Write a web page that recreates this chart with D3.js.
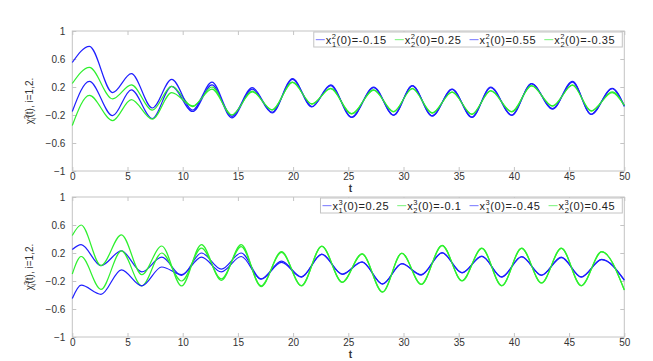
<!DOCTYPE html>
<html>
<head>
<meta charset="utf-8">
<script src="https://cdn.jsdelivr.net/npm/d3@7"></script>
<style>
  body { margin: 0; background: #fff; }
  text { font-family: "Liberation Sans", Arial, sans-serif; }
</style>
</head>
<body>
<div id="chart"></div>
<script>
// ---- data (t, value) ----
const xTicks = [0, 5, 10, 15, 20, 25, 30, 35, 40, 45, 50];
const yTicks = [1, 0.6, 0.2, -0.2, -0.6, -1];

// upper panel (superscript 2)
const topT = [0, 1.55, 3.65, 5.35, 7.25, 9.0, 10.9, 12.65, 14.45, 16.3, 18.1, 19.95, 21.7, 23.4, 25.3,
  27.3, 29.1, 30.8, 32.6, 34.4, 36.2, 37.9, 39.8, 41.6, 43.5, 45.3, 47.0, 48.9, 50];
const topBlueA = [-0.15, 0.28, -0.21, 0.16, -0.25, 0.21, -0.15, 0.23, -0.24, 0.17, -0.17, 0.31, -0.085, 0.22, -0.235,
  0.19, -0.205, 0.215, -0.215, 0.165, -0.235, 0.19, -0.205, 0.245, -0.115, 0.27, -0.19, 0.175, -0.08];
const topGreenA = [0.25, 0.48, 0.03, 0.23, -0.13, 0.21, -0.08, 0.20, -0.20, 0.14, -0.13, 0.27, -0.04, 0.18, -0.18,
  0.16, -0.15, 0.18, -0.17, 0.13, -0.19, 0.15, -0.15, 0.22, -0.07, 0.23, -0.14, 0.13, -0.06];
const topBlueB = [0.55, 0.78, 0.12, 0.39, -0.10, 0.31, -0.13, 0.27, -0.22, 0.19, -0.16, 0.32, -0.08, 0.23, -0.23,
  0.20, -0.20, 0.22, -0.21, 0.17, -0.23, 0.20, -0.20, 0.25, -0.11, 0.28, -0.19, 0.18, -0.07];
const topGreenB = [-0.35, 0.08, -0.28, 0.02, -0.26, 0.12, -0.07, 0.17, -0.20, 0.13, -0.125, 0.265, -0.045, 0.175, -0.185,
  0.155, -0.155, 0.175, -0.175, 0.125, -0.19, 0.145, -0.155, 0.215, -0.075, 0.225, -0.145, 0.12, -0.065];
const topSubs = ["1", "2", "1", "2"];
const topInits = ["-0.15", "0.25", "0.55", "-0.35"];

// lower panel (superscript 3)
const botT = [0, 0.8, 2.6, 4.45, 6.3, 8.1, 9.9, 11.7, 13.5, 15.3, 17.1, 18.95, 20.75, 22.6, 24.45,
  26.25, 28.1, 29.85, 31.6, 33.5, 35.3, 37.1, 38.9, 40.7, 42.5, 44.3, 46.1, 47.95, 50];
const botBlueA = [0.25, 0.32, 0.02, 0.23, -0.07, 0.14, -0.12, 0.20, -0.03, 0.20, -0.17, 0.085, -0.14, 0.185, -0.10,
  0.075, -0.24, 0.05, -0.11, 0.205, -0.08, 0.155, -0.14, 0.15, -0.115, 0.14, -0.14, 0.11, -0.19];
const botGreenA = [-0.10, 0.15, -0.32, 0.23, -0.27, 0.20, -0.20, 0.27, -0.17, 0.29, -0.27, 0.21, -0.265, 0.295, -0.215,
  0.185, -0.355, 0.195, -0.245, 0.305, -0.195, 0.265, -0.265, 0.265, -0.225, 0.265, -0.265, 0.215, -0.325];
const botBlueB = [-0.45, -0.26, -0.39, -0.04, -0.27, 0.00, -0.11, 0.14, -0.07, 0.15, -0.175, 0.065, -0.145, 0.18, -0.105,
  0.07, -0.245, 0.045, -0.115, 0.20, -0.085, 0.15, -0.145, 0.145, -0.12, 0.135, -0.145, 0.105, -0.185];
const botGreenB = [0.45, 0.60, 0.02, 0.46, -0.11, 0.30, -0.27, 0.32, -0.19, 0.32, -0.28, 0.22, -0.27, 0.30, -0.22,
  0.19, -0.36, 0.20, -0.25, 0.31, -0.20, 0.27, -0.27, 0.27, -0.23, 0.27, -0.27, 0.22, -0.33];
const botSubs = ["1", "2", "1", "2"];
const botInits = ["0.25", "-0.1", "-0.45", "0.45"];

const blue = "#1f1fff",
  green = "#2ef02e";

let width = 653,
  height = 361,
  margin = { left: 72.3, right: 28.7 };

const svg = d3
  .select("#chart")
  .append("svg")
  .attr("width", width)
  .attr("height", height)
  .attr("viewBox", [0, 0, width, height]);

const x = d3.scaleLinear().domain([0, 50]).range([margin.left, width - margin.right]);

function drawPanel(top, bottom, times, series, subs, inits, sup) {
  let y = d3.scaleLinear().domain([-1, 1]).range([bottom, top]);
  let g = svg.append("g");

  // box
  g.append("rect")
    .attr("x", x(0))
    .attr("y", top)
    .attr("width", x(50) - x(0))
    .attr("height", bottom - top)
    .attr("fill", "none")
    .attr("stroke", "#c4c4c4");

  // axes with inward ticks (matlab look)
  let ax = [
    d3.axisBottom(x).tickValues(xTicks).tickSizeInner(-4).tickSizeOuter(0).tickPadding(2),
    d3.axisLeft(y).tickValues(yTicks).tickSizeInner(-4).tickSizeOuter(0).tickPadding(7)
      .tickFormat(d3.format("~g")),
    d3.axisTop(x).tickValues(xTicks).tickSizeInner(-4).tickSizeOuter(0).tickFormat(""),
    d3.axisRight(y).tickValues(yTicks).tickSizeInner(-4).tickSizeOuter(0).tickFormat(""),
  ];
  let pos = [
    `translate(0,${bottom})`,
    `translate(${x(0)},0)`,
    `translate(0,${top})`,
    `translate(${x(50)},0)`,
  ];
  ax.forEach((a, i) => {
    let ag = g.append("g").attr("transform", pos[i]).call(a);
    ag.select(".domain").remove();
    ag.selectAll("line").attr("stroke", "#c4c4c4");
    ag.selectAll("text")
      .attr("fill", "#333")
      .style("font-size", "10px")
      .style("font-family", '"Liberation Sans", Arial, sans-serif');
  });

  // x label
  g.append("text")
    .attr("x", (x(0) + x(50)) / 2 + 2)
    .attr("y", bottom + 20.5)
    .attr("text-anchor", "middle")
    .attr("fill", "#333")
    .style("font-size", "10px")
    .style("font-weight", "bold")
    .text("t");

  // y label
  let yl = g.append("text")
    .attr("transform", `translate(33,${(top + bottom) / 2}) rotate(-90)`)
    .attr("text-anchor", "middle")
    .attr("fill", "#333")
    .style("font-size", "10px");
  yl.append("tspan").text("χ");
  yl.append("tspan").attr("dy", -4).style("font-size", "7px").text(sup);
  yl.append("tspan").attr("dx", -4).attr("dy", 7).style("font-size", "7px").text("i");
  yl.append("tspan").attr("dy", -3).text("(t), i=1,2.");

  // curves
  let line = d3
    .line()
    .x((d) => x(d[0]))
    .y((d) => y(d[1]))
    .curve(d3.curveMonotoneX);

  series.forEach((s) => {
    g.append("path")
      .datum(times.map((t, i) => [t, s.vals[i]]))
      .attr("fill", "none")
      .attr("stroke", s.color)
      .attr("stroke-width", 1.2)
      .attr("d", line);
  });

  // legend, anchored to the upper right corner
  let lg = g.append("g");
  let cursor = 0;
  series.forEach((s, i) => {
    let it = lg.append("g").attr("transform", `translate(${cursor},0)`);
    it.append("rect")
      .attr("x", 0)
      .attr("y", -0.5)
      .attr("width", 9)
      .attr("height", 1.2)
      .attr("fill", s.color === blue ? "#8c8cff" : "#8ef58e");
    let tx = it.append("text")
      .attr("x", 10)
      .attr("y", 4)
      .attr("fill", "#222")
      .style("font-size", "11px")
      .style("letter-spacing", "0.6px");
    tx.append("tspan").text("x");
    tx.append("tspan").attr("dy", 3).style("font-size", "7.5px").text(subs[i]);
    tx.append("tspan").attr("dx", -5).attr("dy", -8).style("font-size", "7.5px").text(sup);
    tx.append("tspan").attr("dy", 5).text(`(0)=${inits[i]}`);
    cursor += 10 + tx.node().getComputedTextLength() + 3;
  });
  let lw = cursor + 1;
  let lx = x(50) - 2 - lw;
  let ly = top + 1;
  lg.attr("transform", `translate(${lx + 2},${ly + 7.5})`);
  g.insert("rect", () => lg.node())
    .attr("x", lx)
    .attr("y", ly)
    .attr("width", lw)
    .attr("height", 15)
    .attr("fill", "#fff")
    .attr("stroke", "#c4c4c4");
}

drawPanel(
  31,
  171,
  topT,
  [
    { vals: topBlueA, color: blue },
    { vals: topGreenA, color: green },
    { vals: topBlueB, color: blue },
    { vals: topGreenB, color: green },
  ],
  topSubs,
  topInits,
  "2"
);

drawPanel(
  197,
  337,
  botT,
  [
    { vals: botBlueA, color: blue },
    { vals: botGreenA, color: green },
    { vals: botBlueB, color: blue },
    { vals: botGreenB, color: green },
  ],
  botSubs,
  botInits,
  "3"
);
</script>
</body>
</html>
